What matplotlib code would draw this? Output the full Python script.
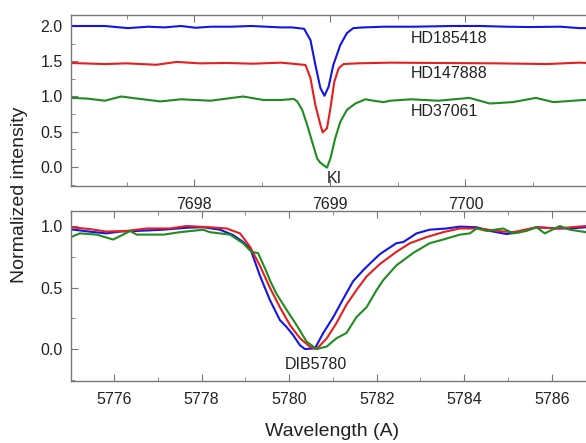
import matplotlib
matplotlib.use('Agg')
import matplotlib.pyplot as plt
from matplotlib.ticker import MultipleLocator

plt.rcParams['font.family'] = ['Liberation Sans', 'DejaVu Sans']

# K I 7699 line, offset spectra
ki_x_185418 = [7697.09, 7697.34, 7697.51, 7697.66, 7697.78, 7697.90, 7698.01, 7698.12, 7698.27,
               7698.42, 7698.64, 7698.72, 7698.81, 7698.857, 7698.893, 7698.930, 7698.960,
               7698.991, 7699.026, 7699.077, 7699.126, 7699.173, 7699.25, 7699.40, 7699.62,
               7699.90, 7700.11, 7700.30, 7700.47, 7700.70, 7700.84, 7700.90]
ki_y_185418 = [2.00, 2.00, 1.97, 1.99, 1.98, 2.00, 1.975, 1.99, 1.99,
               2.00, 1.98, 1.98, 1.96, 1.80, 1.45, 1.12, 1.01,
               1.14, 1.45, 1.73, 1.90, 1.97, 1.98, 1.99, 1.99,
               2.00, 2.00, 1.99, 1.985, 1.99, 1.97, 1.97]

ki_x_147888 = [7697.09, 7697.34, 7697.50, 7697.72, 7697.87, 7698.04, 7698.24, 7698.43, 7698.64,
               7698.82, 7698.857, 7698.893, 7698.930, 7698.947, 7698.979, 7699.004, 7699.033,
               7699.065, 7699.101, 7699.20, 7699.45, 7699.80, 7700.23, 7700.60, 7700.84, 7700.90]
ki_y_147888 = [1.475, 1.46, 1.47, 1.45, 1.49, 1.47, 1.475, 1.465, 1.48,
               1.447, 1.26, 0.88, 0.60, 0.49, 0.55, 0.83, 1.21,
               1.40, 1.46, 1.47, 1.48, 1.475, 1.47, 1.46, 1.48, 1.475]

ki_x_37061 = [7697.09, 7697.21, 7697.34, 7697.46, 7697.58, 7697.75, 7697.90, 7698.12, 7698.36,
              7698.51, 7698.64, 7698.734, 7698.759, 7698.796, 7698.832, 7698.869, 7698.906,
              7698.930, 7698.979, 7699.004, 7699.040, 7699.077, 7699.126, 7699.188, 7699.261,
              7699.322, 7699.396, 7699.445, 7699.60, 7699.80, 7700.03, 7700.18, 7700.35,
              7700.52, 7700.65, 7700.87, 7700.90]
ki_y_37061 = [0.98, 0.97, 0.94, 1.00, 0.97, 0.93, 0.96, 0.94, 1.00,
              0.95, 0.95, 0.965, 0.93, 0.81, 0.60, 0.36, 0.12,
              0.06, -0.01, 0.12, 0.41, 0.64, 0.81, 0.90, 0.96,
              0.94, 0.92, 0.94, 0.96, 0.94, 0.98, 0.90, 0.92,
              0.98, 0.92, 0.95, 0.95]

# DIB 5780
dib_x_185418 = [5775.02, 5775.45, 5775.83, 5776.14, 5776.52, 5777.13, 5777.66, 5778.04, 5778.42,
                5778.72, 5778.95, 5779.12, 5779.33, 5779.56, 5779.79, 5779.94, 5780.09, 5780.25,
                5780.36, 5780.59, 5780.78, 5781.01, 5781.24, 5781.46, 5781.69, 5781.92, 5782.07,
                5782.15, 5782.45, 5782.61, 5782.91, 5783.21, 5783.60, 5783.90, 5784.28, 5784.58,
                5784.96, 5785.27, 5785.65, 5786.11, 5786.41, 5786.78]
dib_y_185418 = [0.973, 0.954, 0.94, 0.955, 0.96, 0.97, 0.986, 0.99, 0.97,
                0.927, 0.87, 0.81, 0.60, 0.40, 0.235, 0.18, 0.114, 0.03,
                0.0, 0.005, 0.13, 0.26, 0.41, 0.55, 0.64, 0.72, 0.77,
                0.79, 0.86, 0.87, 0.94, 0.97, 0.98, 0.995, 0.99, 0.96,
                0.935, 0.95, 0.99, 0.98, 0.98, 0.99]

dib_x_147888 = [5775.02, 5775.45, 5775.83, 5776.29, 5776.75, 5777.28, 5777.66, 5778.19, 5778.57,
                5778.88, 5779.11, 5779.33, 5779.56, 5779.79, 5780.02, 5780.25, 5780.47, 5780.63,
                5780.86, 5781.08, 5781.31, 5781.54, 5781.77, 5782.07, 5782.45, 5782.76, 5783.14,
                5783.52, 5783.90, 5784.36, 5784.74, 5785.12, 5785.65, 5786.11, 5786.78]
dib_y_147888 = [0.99, 0.975, 0.955, 0.96, 0.98, 0.98, 1.00, 0.99, 0.98,
                0.94, 0.83, 0.68, 0.50, 0.34, 0.195, 0.087, 0.02, 0.0,
                0.087, 0.21, 0.36, 0.48, 0.59, 0.69, 0.79, 0.86, 0.91,
                0.95, 0.98, 0.98, 0.96, 0.95, 0.99, 0.98, 1.00]

dib_x_37061 = [5775.02, 5775.22, 5775.61, 5775.98, 5776.21, 5776.37, 5776.52, 5777.13, 5777.51,
               5778.04, 5778.19, 5778.65, 5778.95, 5779.14, 5779.29, 5779.47, 5779.56, 5779.71,
               5779.94, 5780.17, 5780.40, 5780.63, 5780.86, 5781.08, 5781.31, 5781.54, 5781.77,
               5782.00, 5782.15, 5782.45, 5782.83, 5783.21, 5783.52, 5783.90, 5784.13, 5784.28,
               5784.51, 5784.89, 5785.12, 5785.42, 5785.65, 5785.84, 5786.18, 5786.41, 5786.78]
dib_y_37061 = [0.91, 0.94, 0.93, 0.89, 0.93, 0.96, 0.93, 0.93, 0.95,
               0.97, 0.95, 0.93, 0.86, 0.79, 0.78, 0.64, 0.56, 0.45,
               0.32, 0.195, 0.06, 0.0, 0.02, 0.087, 0.13, 0.26, 0.34,
               0.48, 0.56, 0.68, 0.78, 0.86, 0.89, 0.93, 0.94, 0.98,
               0.96, 0.98, 0.94, 0.96, 0.99, 0.94, 1.00, 0.97, 0.95]

star_names = ['HD185418', 'HD147888', 'HD37061']
colors = ['#1414e6', '#e61e1e', '#1e8c1e']

W, H = 586.0, 443.0
fig = plt.figure(figsize=(5.86, 4.43), dpi=100)
ax1 = fig.add_axes([71 / W, 1 - 186 / H, 1 - 71 / W, 171 / H])
ax2 = fig.add_axes([71 / W, 1 - 381 / H, 1 - 71 / W, 170 / H])

ax1.plot(ki_x_185418, ki_y_185418, color=colors[0], lw=1.5)
ax1.plot(ki_x_147888, ki_y_147888, color=colors[1], lw=1.5)
ax1.plot(ki_x_37061, ki_y_37061, color=colors[2], lw=1.5)
ax1.set_xlim(7697.09, 7700.89)
ax1.set_ylim(-0.27, 2.156)
ax1.xaxis.set_major_locator(MultipleLocator(1))
ax1.xaxis.set_minor_locator(MultipleLocator(0.5))
ax1.yaxis.set_major_locator(MultipleLocator(0.5))
ax1.yaxis.set_minor_locator(MultipleLocator(0.25))
ax1.yaxis.set_major_formatter('{x:.1f}')
ax1.text(7699.60, 1.826, star_names[0], fontsize=11.5, va='center', color='#222222')
ax1.text(7699.60, 1.33, star_names[1], fontsize=11.5, va='center', color='#222222')
ax1.text(7699.60, 0.785, star_names[2], fontsize=11.5, va='center', color='#222222')
ax1.text(7699.03, -0.163, 'KI', fontsize=11.5, ha='center', va='center', color='#222222')

ax2.plot(dib_x_185418, dib_y_185418, color=colors[0], lw=1.5)
ax2.plot(dib_x_147888, dib_y_147888, color=colors[1], lw=1.5)
ax2.plot(dib_x_37061, dib_y_37061, color=colors[2], lw=1.5)
ax2.set_xlim(5775.02, 5786.78)
ax2.set_ylim(-0.26, 1.122)
ax2.xaxis.set_major_locator(MultipleLocator(2))
ax2.xaxis.set_minor_locator(MultipleLocator(1))
ax2.yaxis.set_major_locator(MultipleLocator(0.5))
ax2.yaxis.set_minor_locator(MultipleLocator(0.25))
ax2.yaxis.set_major_formatter('{x:.1f}')
ax2.text(5780.62, -0.122, 'DIB5780', fontsize=11.5, ha='center', va='center', color='#222222')

for ax in (ax1, ax2):
    ax.spines['right'].set_visible(False)
    for s in ('left', 'top', 'bottom'):
        ax.spines[s].set_color('#777777')
        ax.spines[s].set_linewidth(1.0)
    ax.tick_params(which='both', direction='in', top=True, right=False, color='#777777')
    ax.tick_params(which='major', length=5, labelsize=11.5, labelcolor='#222222')
    ax.tick_params(which='minor', length=3)
    ax.tick_params(axis='x', which='major', pad=8)
    ax.tick_params(axis='y', which='major', pad=6)

fig.text(20 / W, 1 - 195 / H, 'Normalized intensity', rotation=90, fontsize=14,
         ha='center', va='center', color='#222222')
fig.text(332 / W, 1 - 432 / H, 'Wavelength (A)', fontsize=14,
         ha='center', va='center', color='#222222')

fig.savefig('out.png', dpi=100)
